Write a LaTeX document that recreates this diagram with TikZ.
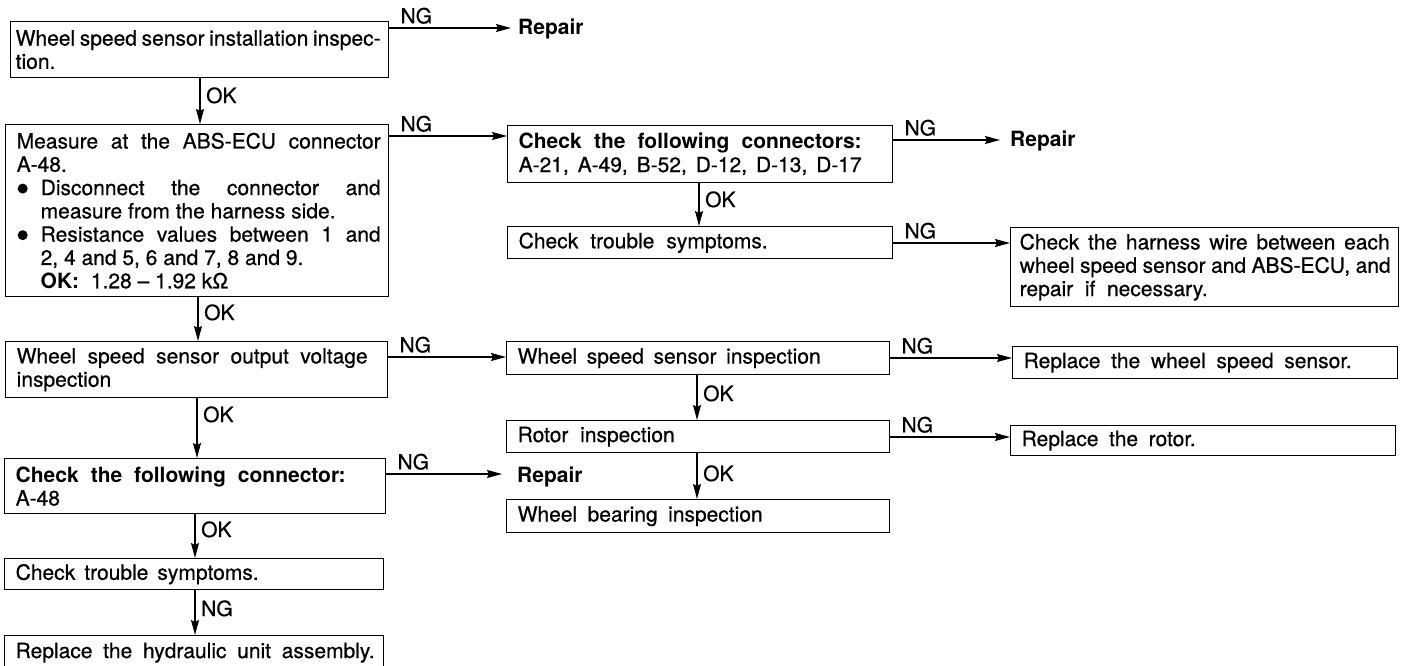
\documentclass[tikz,border=0pt]{standalone}
\usepackage{fontspec}
\setmainfont{TeX Gyre Heros}[UprightFeatures={FakeBold=0.6}]
\usetikzlibrary{arrows.meta,calc}
\newcommand\fs{\fontsize{21}{23.3}\selectfont}
\newcommand\sline[2]{\makebox[#1][s]{\spaceskip=.278em plus 1fill minus .15em\relax #2}}
\newcommand\nline[1]{\mbox{\spaceskip=.278em\relax #1}}
\newcommand\bul{\makebox[24pt][l]{\hspace{1pt}\tikz[baseline={(0pt,-6.5pt)}]\fill (0pt,0pt) circle (5pt);}}
\newcommand\ind{\hspace*{24pt}}
\hfuzz=30pt
\begin{document}
\begin{tikzpicture}[x=1pt,y=-1pt,
  box/.style={draw, line width=1.4pt, anchor=north west, inner xsep=11pt, inner ysep=0pt, align=left, font=\fs},
  lab/.style={font=\fs, inner sep=0pt},
  rep/.style={font=\fs\bfseries, inner sep=0pt, anchor=west},
  arr/.style={line width=1.4pt, -{Stealth[length=15pt,width=8pt,inset=2pt]}}]
\useasboundingbox (0,0) rectangle (1406,666);

% left column
\node[box, minimum width=378pt, minimum height=56pt, text width=368pt, inner xsep=5pt] (b1) at (10,21)
  {\sline{365pt}{Wheel speed sensor installation inspec-}\\tion.};
\node[box, minimum width=383pt, minimum height=172pt, text width=361pt] (b2) at (5,124)
  {\sline{364pt}{Measure at the ABS-ECU connector}\\
   A-48.\\
   \bul\sline{340pt}{Disconnect the connector and}\\
   \ind\nline{measure from the harness side.}\\
   \bul\sline{340pt}{Resistance values between 1 and}\\
   \ind\nline{2, 4 and 5, 6 and 7, 8 and 9.}\\
   \ind\nline{\textbf{OK:}\ \ 1.28 – 1.92 kΩ}};
\node[box, minimum width=382pt, minimum height=56pt, text width=360pt] (b6) at (5,341)
  {\sline{351pt}{Wheel speed sensor output voltage}\\inspection};
\node[box, minimum width=381pt, minimum height=55pt, text width=359pt] (b12) at (4,458)
  {\sline{330pt}{\bfseries Check the following connector:}\\A-48};
\node[box, minimum width=379pt, minimum height=31pt, text width=357pt] (b13) at (4,558)
  {\sline{243pt}{Check trouble symptoms.}};
\node[box, minimum width=379pt, minimum height=34pt, text width=357pt] (b14) at (4,635)
  {\sline{359pt}{Replace the hydraulic unit assembly.}};

% middle column
\node[box, minimum width=385pt, minimum height=57pt, text width=363pt] (b3) at (507,125)
  {\sline{343pt}{\bfseries Check the following connectors:}\\
   \sline{343pt}{A-21, A-49, B-52, D-12, D-13, D-17}};
\node[box, minimum width=385pt, minimum height=32pt, text width=363pt] (b4) at (507,226)
  {\sline{249pt}{Check trouble symptoms.}};
\node[box, minimum width=383pt, minimum height=33pt, text width=361pt] (b7) at (506,341)
  {\sline{303pt}{Wheel speed sensor inspection}};
\node[box, minimum width=383pt, minimum height=32pt, text width=361pt] (b9) at (506,420)
  {\sline{157pt}{Rotor inspection}};
\node[box, minimum width=383pt, minimum height=33pt, text width=361pt] (b11) at (506,499)
  {\sline{245pt}{Wheel bearing inspection}};

% right column
\node[box, minimum width=388pt, minimum height=79pt, text width=370pt, inner xsep=9pt] (b5) at (1010,227)
  {\sline{370pt}{Check the harness wire between each}\\
   \sline{371pt}{wheel speed sensor and ABS-ECU, and}\\
   \nline{repair\ \ if\ \ necessary.}};
\node[box, minimum width=385pt, minimum height=32pt, text width=363pt] (b8) at (1012,346)
  {\sline{328pt}{Replace the wheel speed sensor.}};
\node[box, minimum width=385pt, minimum height=30pt, text width=363pt] (b10) at (1010,425)
  {\sline{174pt}{Replace the rotor.}};

% repair labels
\node[rep] (r1) at (518,29) {Repair};
\node[rep] (r2) at (1010,141) {Repair};
\node[rep] (r3) at (517,477) {Repair};

% horizontal NG arrows
\draw[arr, shorten >=7pt] ($(b1.north east)+(0,7)$) coordinate (s1) -- (s1 -| r1.west);
\node[lab, anchor=south west] (n1) at ($(s1)+(11,-4)$) {NG};
\draw[arr] ($(b2.north east)+(0,12)$) coordinate (s2) -- (s2 -| b3.west);
\node[lab, anchor=south west] (n2) at ($(s2)+(11,-4)$) {NG};
\draw[arr, shorten >=10pt] ($(b3.north east)+(0,15)$) coordinate (s3) -- (s3 -| r2.west);
\node[lab, anchor=south west] (n3) at ($(s3)+(11,-4)$) {NG};
\draw[arr] ($(b4.north east)+(0,17)$) coordinate (s4) -- (s4 -| b5.west);
\node[lab, anchor=south west] (n4) at ($(s4)+(11,-4)$) {NG};
\draw[arr] ($(b6.north east)+(0,16)$) coordinate (s6) -- (s6 -| b7.west);
\node[lab, anchor=south west] (n6) at ($(s6)+(11,-4)$) {NG};
\draw[arr] ($(b7.north east)+(0,17)$) coordinate (s7) -- (s7 -| b8.west);
\node[lab, anchor=south west] (n7) at ($(s7)+(11,-4)$) {NG};
\draw[arr] ($(b9.north east)+(0,17)$) coordinate (s9) -- (s9 -| b10.west);
\node[lab, anchor=south west] (n9) at ($(s9)+(11,-4)$) {NG};
\draw[arr, shorten >=15pt] ($(b12.north east)+(0,16)$) coordinate (s12) -- (s12 -| r3.west);
\node[lab, anchor=south west] (n12) at ($(s12)+(11,-4)$) {NG};

% vertical arrows
\draw[arr] ($(b1.south west)+(190,0)$) coordinate (t1) -- (t1 |- b2.north);
\node[lab, anchor=west] (o1) at ($(t1)+(6,17)$) {OK};
\draw[arr] ($(b2.south west)+(193,0)$) coordinate (t2) -- (t2 |- b6.north);
\node[lab, anchor=west] (o2) at ($(t2)+(6,15)$) {OK};
\draw[arr] ($(b3.south west)+(192,0)$) coordinate (t3) -- (t3 |- b4.north);
\node[lab, anchor=west] (o3) at ($(t3)+(6,16)$) {OK};
\draw[arr] ($(b6.south west)+(192,0)$) coordinate (t6) -- (t6 |- b12.north);
\node[lab, anchor=west] (o6) at ($(t6)+(6,16)$) {OK};
\draw[arr] ($(b7.south west)+(191,0)$) coordinate (t7) -- (t7 |- b9.north);
\node[lab, anchor=west] (o7) at ($(t7)+(6,18)$) {OK};
\draw[arr] ($(b9.south west)+(191,0)$) coordinate (t9) -- (t9 |- b11.north);
\node[lab, anchor=west] (o9) at ($(t9)+(6,20)$) {OK};
\draw[arr] ($(b12.south west)+(191,0)$) coordinate (t12) -- (t12 |- b13.north);
\node[lab, anchor=west] (o12) at ($(t12)+(6,15)$) {OK};
\draw[arr] ($(b13.south west)+(191,0)$) coordinate (t13) -- (t13 |- b14.north);
\node[lab, anchor=west] (o13) at ($(t13)+(6,18)$) {NG};
\end{tikzpicture}
\end{document}
